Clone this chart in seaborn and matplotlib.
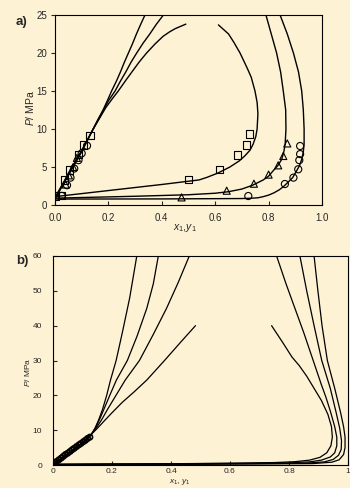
import matplotlib
matplotlib.use('Agg')
import matplotlib.pyplot as plt
import seaborn as sns
import pandas as pd

# ---------------- panel a data ----------------
a_bub1_x = [0.0, 0.05, 0.10, 0.14, 0.16, 0.18, 0.197, 0.212, 0.23, 0.245, 0.26, 0.275, 0.29, 0.305, 0.32, 0.337]
a_bub1_P = [0.8, 3.9, 7.0, 9.8, 11.2, 12.5, 13.8, 15.0, 16.3, 17.5, 18.8, 20.0, 21.2, 22.5, 23.7, 25.0]
a_bub2_x = [0.0, 0.05, 0.10, 0.14, 0.16, 0.18, 0.20, 0.225, 0.245, 0.265, 0.285, 0.306, 0.33, 0.355, 0.38, 0.406]
a_bub2_P = [0.9, 4.0, 7.1, 9.8, 11.1, 12.4, 13.7, 15.0, 16.3, 17.5, 18.8, 20.0, 21.3, 22.5, 23.8, 25.0]
a_bub3_x = [0.0, 0.05, 0.10, 0.14, 0.165, 0.19, 0.215, 0.237, 0.265, 0.29, 0.315, 0.343, 0.375, 0.405, 0.43, 0.45, 0.47, 0.49]
a_bub3_P = [1.0, 4.1, 7.2, 9.8, 11.3, 12.8, 14.0, 15.0, 16.4, 17.6, 18.8, 20.0, 21.2, 22.2, 22.8, 23.2, 23.5, 23.8]

a_dew3_x = [0.0, 0.2, 0.4, 0.54, 0.57, 0.61, 0.655, 0.69, 0.712, 0.73, 0.742, 0.752, 0.757, 0.76, 0.757,
            0.749, 0.735, 0.72, 0.693, 0.67, 0.65, 0.612]
a_dew3_P = [1.1, 1.9, 2.7, 3.3, 3.65, 4.2, 5.0, 5.8, 6.5, 7.2, 8.0, 9.0, 10.0, 12.0, 13.5,
            15.0, 16.8, 18.0, 20.0, 21.4, 22.5, 23.7]
a_dew2_x = [0.0, 0.3, 0.5, 0.6, 0.65, 0.70, 0.74, 0.78, 0.80, 0.817, 0.835, 0.849, 0.857, 0.862, 0.865,
            0.864, 0.855, 0.845, 0.83, 0.81, 0.79]
a_dew2_P = [0.9, 1.15, 1.35, 1.55, 1.75, 2.1, 2.6, 3.3, 3.8, 4.5, 5.2, 6.0, 7.0, 8.0, 10.0,
            12.5, 15.0, 17.5, 20.0, 22.5, 25.0]
a_dew1_x = [0.0, 0.4, 0.7, 0.74, 0.76, 0.78, 0.80, 0.82, 0.84, 0.855, 0.87, 0.89, 0.905, 0.916, 0.924,
            0.93, 0.933, 0.933, 0.93, 0.924, 0.912, 0.893, 0.87, 0.843]
a_dew1_P = [0.78, 0.8, 0.85, 0.9, 0.95, 1.1, 1.3, 1.6, 2.0, 2.4, 2.9, 3.6, 4.5, 5.2, 6.0,
            7.0, 8.0, 10.0, 12.5, 15.0, 17.5, 20.0, 22.5, 25.0]

sq_x = [0.0, 0.025, 0.037, 0.056, 0.087, 0.106, 0.131, 0.50, 0.615, 0.685, 0.718, 0.73]
sq_P = [1.18, 1.2, 3.29, 4.6, 6.6, 7.9, 9.2, 3.38, 4.7, 6.58, 7.9, 9.34]
tri_x = [0.04, 0.052, 0.068, 0.082, 0.474, 0.643, 0.745, 0.80, 0.836, 0.855, 0.87]
tri_P = [2.7, 3.9, 5.0, 6.2, 1.0, 1.88, 2.8, 4.0, 5.22, 6.45, 8.1]
cir_x = [0.025, 0.045, 0.058, 0.072, 0.088, 0.10, 0.12, 0.724, 0.861, 0.893, 0.911, 0.915, 0.918, 0.918]
cir_P = [1.2, 2.6, 3.6, 4.8, 5.9, 6.8, 7.8, 1.18, 2.76, 3.6, 4.7, 5.9, 6.7, 7.76]

# ---------------- panel b data ----------------
b_low_x = [0.0, 0.03, 0.06, 0.09, 0.115, 0.13]
b_low_P = [0.2, 2.0, 3.9, 5.8, 7.4, 8.8]
b_bubA_x = b_low_x + [0.142, 0.155, 0.168, 0.182, 0.195, 0.214, 0.235, 0.26, 0.284]
b_bubA_P = b_low_P + [10.5, 13.0, 16.0, 20.0, 24.4, 30.0, 38.0, 48.0, 60.0]
b_bubB_x = b_low_x + [0.145, 0.16, 0.175, 0.195, 0.215, 0.252, 0.285, 0.318, 0.34, 0.357]
b_bubB_P = b_low_P + [10.8, 13.5, 16.5, 20.5, 24.4, 30.0, 37.0, 45.0, 52.0, 60.0]
b_bubC_x = b_low_x + [0.148, 0.165, 0.185, 0.21, 0.245, 0.293, 0.34, 0.385, 0.425, 0.462]
b_bubC_P = b_low_P + [10.8, 13.0, 16.0, 19.5, 24.4, 30.0, 37.5, 45.0, 52.5, 60.0]
b_bubD_x = b_low_x + [0.15, 0.172, 0.20, 0.235, 0.275, 0.318, 0.378, 0.43, 0.483]
b_bubD_P = b_low_P + [10.5, 12.5, 15.0, 18.0, 21.0, 24.4, 30.0, 35.0, 40.0]

b_dewD_x = [0.0, 0.3, 0.6, 0.75, 0.82, 0.87, 0.905, 0.928, 0.942, 0.947, 0.944, 0.932, 0.91, 0.885,
            0.86, 0.835, 0.81, 0.78, 0.741]
b_dewD_P = [0.2, 0.3, 0.5, 0.7, 0.95, 1.4, 2.2, 3.5, 5.5, 8.0, 11.0, 14.5, 18.5, 22.0,
            25.5, 28.5, 31.0, 35.0, 40.0]
b_dewE_x = [0.0, 0.5, 0.8, 0.87, 0.91, 0.94, 0.955, 0.962, 0.962, 0.955, 0.94, 0.925, 0.91, 0.882,
            0.85, 0.82, 0.79, 0.758]
b_dewE_P = [0.2, 0.4, 0.6, 0.9, 1.4, 2.3, 3.5, 5.5, 8.0, 11.0, 15.5, 19.5, 23.0, 30.0,
            38.0, 45.0, 52.0, 60.0]
b_dewF_x = [0.0, 0.5, 0.85, 0.92, 0.95, 0.968, 0.977, 0.978, 0.972, 0.96, 0.94, 0.911, 0.885, 0.86, 0.837]
b_dewF_P = [0.15, 0.3, 0.5, 0.9, 1.6, 2.8, 4.5, 7.0, 10.5, 15.0, 22.0, 30.0, 40.0, 50.0, 60.0]
b_dewG_x = [0.0, 0.5, 0.88, 0.945, 0.97, 0.985, 0.99, 0.99, 0.985, 0.975, 0.955, 0.93, 0.912, 0.898, 0.885]
b_dewG_P = [0.1, 0.2, 0.4, 0.8, 1.5, 3.0, 5.0, 8.0, 11.0, 15.0, 22.0, 30.0, 40.0, 50.0, 60.0]

b_exp_x = [0.0, 0.004, 0.008, 0.012, 0.02, 0.028, 0.035, 0.042, 0.05, 0.058, 0.065, 0.072,
           0.08, 0.088, 0.095, 0.103, 0.11, 0.117, 0.125]
b_exp_P = [0.1, 0.4, 0.7, 1.0, 1.5, 2.0, 2.5, 3.0, 3.4, 3.9, 4.4, 4.8,
           5.3, 5.8, 6.2, 6.7, 7.1, 7.6, 8.0]

a_xticks = [0.0, 0.2, 0.4, 0.6, 0.8, 1.0]
a_xticklabels = ['0.0', '0.2', '0.4', '0.6', '0.8', '1.0']
a_yticks = [0, 5, 10, 15, 20, 25]
b_xticks = [0, 0.2, 0.4, 0.6, 0.8, 1.0]
b_xticklabels = ['0', '0.2', '0.4', '0.6', '0.8', '1']
b_yticks = [0, 10, 20, 30, 40, 50, 60]

# ---------------- styling ----------------
sns.set_style('white')
plt.rcParams['font.family'] = ['Liberation Sans', 'DejaVu Sans']
plt.rcParams['mathtext.fontset'] = 'custom'
plt.rcParams['mathtext.rm'] = 'Liberation Sans'
plt.rcParams['mathtext.it'] = 'Liberation Sans:italic'
BG = '#FEF2D4'

fig = plt.figure(figsize=(3.5, 4.88), dpi=100, facecolor=BG)
axa = fig.add_axes([55/350, 1-205/488, (322-55)/350, (205-15)/488])
axb = fig.add_axes([53/350, 1-465/488, (348-53)/350, (465-256)/488])


def curve(ax, xs, ps, lw):
    df = pd.DataFrame({'x': xs, 'P': ps})
    sns.lineplot(data=df, x='x', y='P', ax=ax, color='black', lw=lw,
                 sort=False, estimator=None)


for xs, ps in [(a_bub1_x, a_bub1_P), (a_bub2_x, a_bub2_P), (a_bub3_x, a_bub3_P),
               (a_dew1_x, a_dew1_P), (a_dew2_x, a_dew2_P), (a_dew3_x, a_dew3_P)]:
    curve(axa, xs, ps, 1.0)

for xs, ps, m in [(sq_x, sq_P, 's'), (tri_x, tri_P, '^'), (cir_x, cir_P, 'o')]:
    sns.scatterplot(x=xs, y=ps, ax=axa, marker=m, s=26, facecolor='none',
                    edgecolor='black', linewidth=0.8, zorder=3)

for xs, ps in [(b_bubA_x, b_bubA_P), (b_bubB_x, b_bubB_P), (b_bubC_x, b_bubC_P),
               (b_bubD_x, b_bubD_P), (b_dewD_x, b_dewD_P), (b_dewE_x, b_dewE_P),
               (b_dewF_x, b_dewF_P), (b_dewG_x, b_dewG_P)]:
    curve(axb, xs, ps, 0.9)

sns.scatterplot(x=b_exp_x, y=b_exp_P, ax=axb, marker='o', s=15, facecolor='none',
                edgecolor='black', linewidth=1.2, zorder=3)

for ax in (axa, axb):
    ax.set_facecolor(BG)
    for sp in ax.spines.values():
        sp.set_visible(True)
        sp.set_color('black')
        sp.set_linewidth(0.8)

axa.set_xlim(0, 1)
axa.set_ylim(0, 25)
axa.set_xticks(a_xticks)
axa.set_xticklabels(a_xticklabels)
axa.set_yticks(a_yticks)
axa.tick_params(axis='y', direction='out', length=3, width=0.8, pad=2.5, labelsize=7, left=True)
axa.tick_params(axis='x', direction='in', length=3, width=0.8, pad=6, labelsize=7, bottom=True)
axa.set_ylabel(r'$P$/ MPa', fontsize=7.5)
axa.set_xlabel(r'$x_1$,$y_1$', fontsize=7.5)
axa.yaxis.set_label_coords((30-55)/267, (205-108)/190)
axa.xaxis.set_label_coords((185-55)/267, (205-228)/190)
axa.xaxis.label.set_va('center')
axa.yaxis.label.set_va('center')

axb.set_xlim(0, 1)
axb.set_ylim(0, 60)
axb.set_xticks(b_xticks)
axb.set_xticklabels(b_xticklabels)
axb.set_yticks(b_yticks)
axb.tick_params(axis='y', direction='in', length=3, width=0.8, pad=8, labelsize=6, left=True)
axb.tick_params(axis='x', direction='in', length=3, width=0.8, pad=2, labelsize=6, bottom=True)
axb.set_ylabel(r'$P$/ MPa', fontsize=6)
axb.set_xlabel(r'$x_1$, $y_1$', fontsize=6)
axb.yaxis.set_label_coords((27-53)/295, (465-372)/209)
axb.xaxis.set_label_coords((180-53)/295, (465-482)/209)
axb.xaxis.label.set_va('center')
axb.yaxis.label.set_va('center')

fig.text(21/350, 1-22/488, 'a)', fontweight='bold', fontsize=9.5, ha='center', va='center')
fig.text(22/350, 1-261/488, 'b)', fontweight='bold', fontsize=9.5, ha='center', va='center')

fig.savefig('out.png', dpi=100, facecolor=BG)
